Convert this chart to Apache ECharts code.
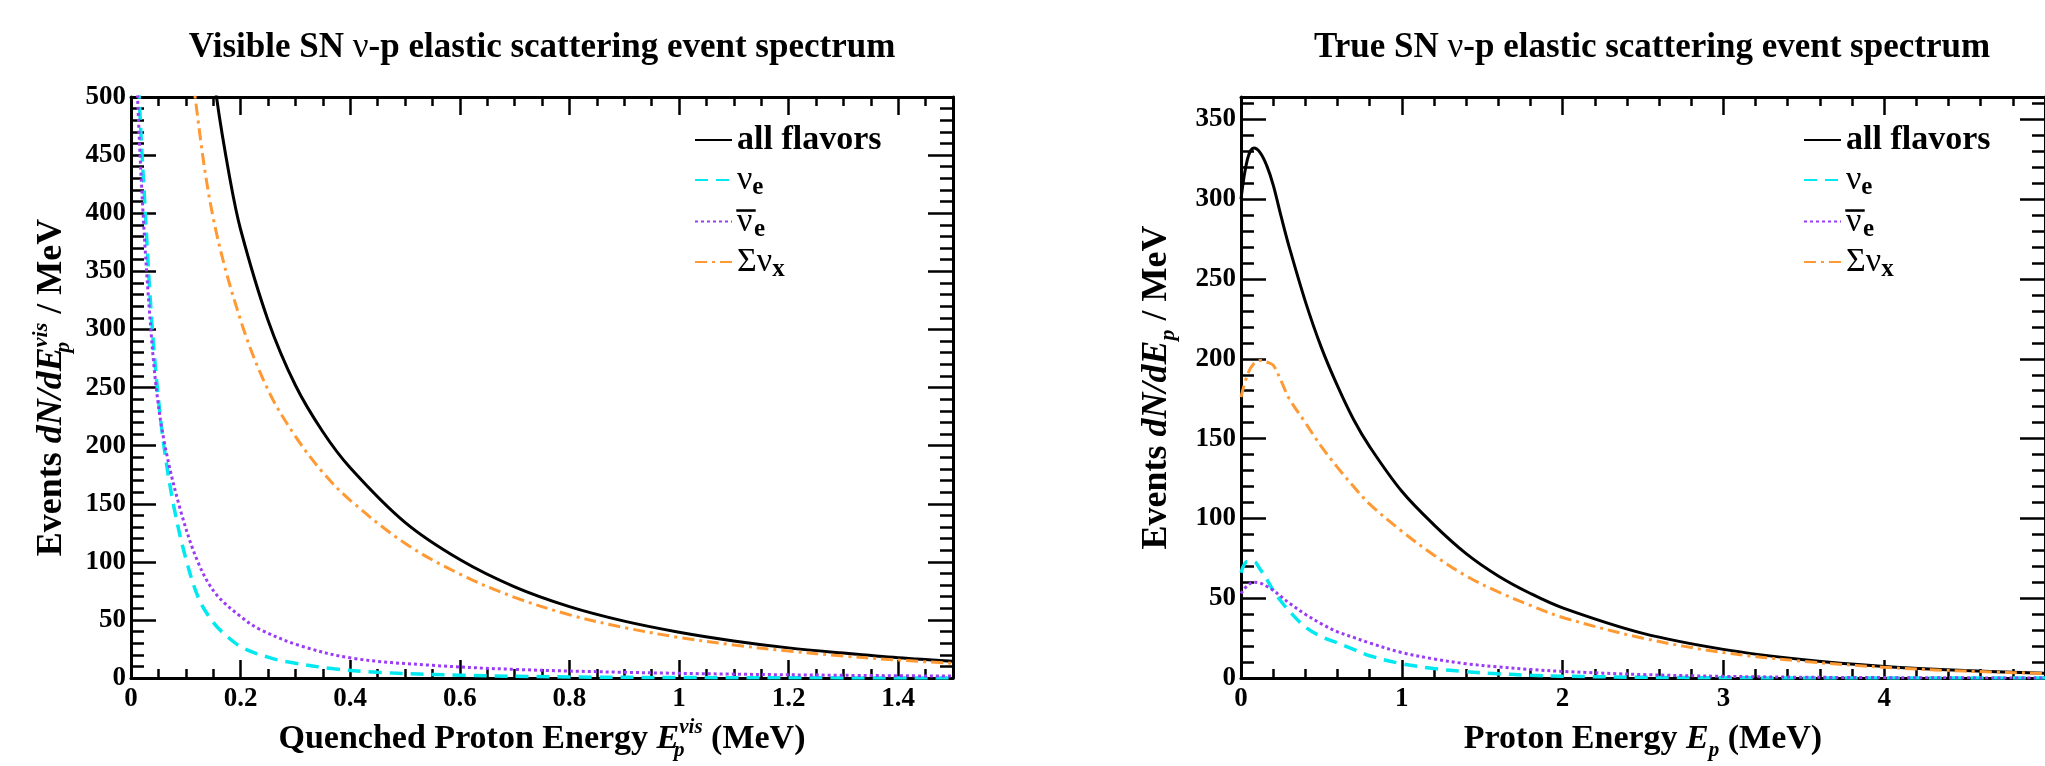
<!DOCTYPE html>
<html><head><meta charset="utf-8">
<script src="https://cdn.jsdelivr.net/npm/echarts@6/dist/echarts.min.js"></script>
<style>html,body{margin:0;padding:0;background:#fff}#c{width:2045px;height:766px}</style>
</head><body><div id="c"></div>
<script>
// ---------- data: visible (quenched) spectrum, left panel ----------
const visAllX  = [0.13, 0.156, 0.18, 0.2, 0.25, 0.3, 0.35, 0.4, 0.5, 0.6, 0.7, 0.8, 0.9, 1.0, 1.1, 1.2, 1.3, 1.4, 1.5];
const visAllY  = [600, 500, 431, 386, 308, 252, 212, 181, 134, 102, 78.5, 61.5, 49, 39.5, 32, 26, 21.5, 17.5, 14.5];
const visNuxX  = [0.1, 0.117, 0.15, 0.2, 0.25, 0.3, 0.35, 0.4, 0.5, 0.6, 0.7, 0.8, 0.9, 1.0, 1.1, 1.2, 1.3, 1.4, 1.5];
const visNuxY  = [580, 500, 396, 308, 248, 208, 177, 153, 116, 89.5, 69.5, 54.5, 43.5, 35, 28.5, 23.3, 19, 15.5, 12.7];
const visNueX  = [0.008, 0.015, 0.025, 0.036, 0.047, 0.06, 0.078, 0.1, 0.124, 0.15, 0.175, 0.204, 0.25, 0.285, 0.37, 0.45, 0.6, 0.8, 1.0, 1.2, 1.5];
const visNueY  = [600, 500, 410, 320, 255, 200, 148, 103, 68, 48, 36, 26, 18, 14, 8, 5, 2.5, 1, 0.5, 0.25, 0.1];
const visNuebX = [0.006, 0.012, 0.022, 0.033, 0.046, 0.062, 0.09, 0.122, 0.154, 0.2, 0.235, 0.308, 0.405, 0.55, 0.7, 0.9, 1.1, 1.3, 1.5];
const visNuebY = [600, 500, 400, 320, 250, 200, 145, 100, 73, 53, 42, 28, 17, 11, 7.5, 5, 3.4, 2.4, 1.7];

// ---------- data: true proton energy spectrum, right panel ----------
const trueX    = [0, 0.04, 0.08, 0.12, 0.16, 0.2, 0.25, 0.3, 0.4, 0.5, 0.6, 0.7, 0.8, 1.0, 1.2, 1.4, 1.6, 1.8, 2.0, 2.5, 3.0, 3.5, 4.0, 4.5, 5.0];
const trueAll  = [300, 325, 332, 329, 321, 309, 289, 270, 236, 207, 183, 162, 145, 117, 96, 78, 64, 53, 44, 28, 18, 11.5, 7.3, 4.7, 3];
const trueNux  = [176, 190, 197, 199, 198, 196, 186, 175, 160, 145, 132, 120, 109, 92, 77, 64, 54, 45.5, 38, 25, 16, 10.5, 6.8, 4.4, 2.9];
const trueNue  = [66, 73, 73, 68, 62, 55, 48, 42, 32, 26, 22, 18, 14, 9, 6, 4, 2.7, 1.8, 1.2, 0.5, 0.2, 0.1, 0.05, 0.02, 0.01];
const trueNueb = [53, 58, 60, 59.5, 57.5, 55, 51, 47, 40, 34, 29, 25.5, 22, 16, 12, 9, 7, 5.4, 4.2, 2.2, 1.1, 0.55, 0.3, 0.15, 0.08];

// ---------- axis ranges / names ----------
const visXRange  = [0, 1.5, 0.2];
const visYRange  = [0, 500, 50];
const trueXRange = [0, 5, 1];
const trueYRange = [0, 364, 50];
const seriesNames = ['all flavors', 'nue', 'nuebar', 'nux'];
const titles = ['Visible SN {n|ν}-p elastic scattering event spectrum', 'True SN {n|ν}-p elastic scattering event spectrum'];

const FF = 'Liberation Serif';
const zip = (xs, ys) => xs.map((x, i) => [x, ys[i]]);

const nameRich = (fs) => ({
  i:   {fontFamily: FF, fontWeight: 'bold', fontStyle: 'italic', fontSize: fs, color: '#000', lineHeight: 44},
  sz:  {fontFamily: FF, fontWeight: 'bold', fontStyle: 'italic', fontSize: Math.round(fs*0.62), color: '#000', lineHeight: 12, verticalAlign: 'bottom', width: 0},
  sb:  {fontFamily: FF, fontWeight: 'bold', fontStyle: 'italic', fontSize: Math.round(fs*0.62), color: '#000', lineHeight: 12, verticalAlign: 'bottom'},
  sp:  {fontFamily: FF, fontWeight: 'bold', fontStyle: 'italic', fontSize: Math.round(fs*0.62), color: '#000', lineHeight: 14, verticalAlign: 'top'}
});
const nameStyle = (fs) => ({fontFamily: FF, fontWeight: 'bold', fontSize: fs, color: '#000', lineHeight: 44, rich: nameRich(fs)});

function xAx(grid, pos, r, minorSplit, name) {
  const bottom = pos === 'bottom';
  return {
    type: 'value', gridIndex: grid, position: pos, min: r[0], max: r[1], interval: r[2],
    axisLine: {show: true, onZero: false, lineStyle: {color: '#000', width: 3}},
    axisTick: {show: true, inside: true, length: 18, lineStyle: {color: '#000', width: 2.5}},
    minorTick: {show: true, splitNumber: minorSplit, length: 9, lineStyle: {color: '#000', width: 2.5}},
    splitLine: {show: false}, minorSplitLine: {show: false},
    axisLabel: {show: bottom, margin: 7, fontFamily: FF, fontWeight: 'bold', fontSize: 27, color: '#000', showMaxLabel: false},
    name: bottom ? name : '', nameLocation: 'middle', nameGap: 29, nameTextStyle: nameStyle(34)
  };
}
function yAx(grid, pos, r, name, gap) {
  const left = pos === 'left';
  return {
    type: 'value', gridIndex: grid, position: pos, min: r[0], max: r[1], interval: r[2],
    axisLine: {show: true, onZero: false, lineStyle: {color: '#000', width: 3}},
    axisTick: {show: true, inside: true, length: 25, lineStyle: {color: '#000', width: 2.5}},
    minorTick: {show: true, splitNumber: 5, length: 13, lineStyle: {color: '#000', width: 2.5}},
    splitLine: {show: false}, minorSplitLine: {show: false},
    axisLabel: {show: left, margin: 5, fontFamily: FF, fontWeight: 'bold', fontSize: 27, color: '#000', showMaxLabel: r[1] % r[2] === 0},
    name: left ? name : '', nameLocation: 'middle', nameGap: gap, nameTextStyle: nameStyle(36)
  };
}

const styles = {
  'all flavors': {color: '#000000', width: 3, type: 'solid'},
  'nue':         {color: '#00e8f0', width: 3.5, type: [13, 8]},
  'nuebar':      {color: '#9a3cf5', width: 3, type: [3, 3]},
  'nux':         {color: '#ff9933', width: 3, type: [12, 5, 3, 5]}
};
function ser(name, xi, yi, data) {
  const s = styles[name];
  return {
    type: 'line', name, xAxisIndex: xi, yAxisIndex: yi, data, symbol: 'none', showSymbol: false,
    smooth: 0.35, clip: true,
    lineStyle: {color: s.color, width: s.width, type: s.type}, itemStyle: {color: s.color}
  };
}

const legRich = {
  t:   {fontFamily: FF, fontWeight: 'bold', fontSize: 34, color: '#000', lineHeight: 40},
  g:   {fontFamily: FF, fontWeight: 'normal', fontSize: 34, color: '#000', lineHeight: 40},
  gz:  {fontFamily: FF, fontWeight: 'normal', fontSize: 34, color: '#000', lineHeight: 40, width: 0},
  bar: {fontFamily: FF, fontWeight: 'bold', fontSize: 18, color: '#000', textBorderColor: '#000', textBorderWidth: 1.2,
        lineHeight: 22, verticalAlign: 'top', width: 17},
  s:   {fontFamily: FF, fontWeight: 'bold', fontSize: 25, color: '#000', lineHeight: 29, verticalAlign: 'bottom'}
};
const legFmt = (n) => ({
  'all flavors': '{t|all flavors}',
  'nue': '{g|ν}{s|e}',
  'nuebar': '{gz|ν}{bar|—}{s|e}',
  'nux': '{g|Σν}{s|x}'
})[n];
const legendRows = [140, 180, 221, 262];
const legendItem = (name, left, rowY) => ({
  data: [name], orient: 'vertical', left, top: rowY - 20, padding: 0,
  itemWidth: 37, itemHeight: 14, selectedMode: false,
  itemStyle: {opacity: 0},
  formatter: legFmt, textStyle: {fontFamily: FF, fontSize: 34, color: '#000', lineHeight: 40, rich: legRich}
});
const legends = [];
[694, 1803].forEach(left => seriesNames.forEach((n, k) => legends.push(legendItem(n, left, legendRows[k]))));

const titleCfg = (text, cx) => ({
  text, left: cx, top: 30, textAlign: 'center', padding: 0,
  textStyle: {fontFamily: FF, fontWeight: 'bold', fontSize: 35, color: '#000',
    rich: {n: {fontFamily: FF, fontWeight: 'normal', fontSize: 35, color: '#000'}}}
});

const chart = echarts.init(document.getElementById('c'), null, {renderer: 'canvas'});
chart.setOption({
  animation: false,
  backgroundColor: '#ffffff',
  title: [titleCfg(titles[0], 542), titleCfg(titles[1], 1652)],
  legend: legends,
  grid: [
    {left: 131, top: 97, width: 822, height: 593},
    {left: 1241, top: 97, width: 822, height: 593}
  ],
  xAxis: [
    xAx(0, 'bottom', visXRange, 4, 'Quenched Proton Energy {i|E}{sz|p}{sp|vis} (MeV)'),
    xAx(0, 'top', visXRange, 4, ''),
    xAx(1, 'bottom', trueXRange, 5, 'Proton Energy {i|E}{sb|p} (MeV)'),
    xAx(1, 'top', trueXRange, 5, '')
  ],
  yAxis: [
    yAx(0, 'left', visYRange, 'Events {i|dN/dE}{sz|p}{sp|vis} / MeV', 57),
    yAx(0, 'right', visYRange, '', 0),
    yAx(1, 'left', trueYRange, 'Events {i|dN/dE}{sb|p} / MeV', 62),
    yAx(1, 'right', trueYRange, '', 0)
  ],
  series: [
    ser('all flavors', 0, 0, zip(visAllX, visAllY)),
    ser('nue', 0, 0, zip(visNueX, visNueY)),
    ser('nuebar', 0, 0, zip(visNuebX, visNuebY)),
    ser('nux', 0, 0, zip(visNuxX, visNuxY)),
    ser('all flavors', 2, 2, zip(trueX, trueAll)),
    ser('nue', 2, 2, zip(trueX, trueNue)),
    ser('nuebar', 2, 2, zip(trueX, trueNueb)),
    ser('nux', 2, 2, zip(trueX, trueNux))
  ]
});
</script></body></html>
